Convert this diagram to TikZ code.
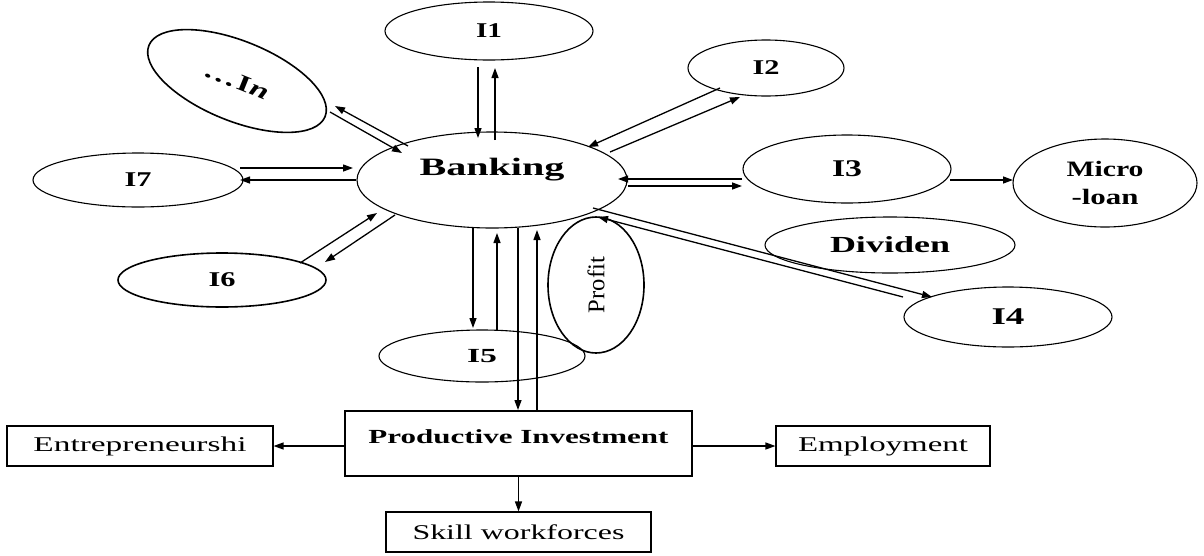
\documentclass[tikz,border=0pt]{standalone}
\usepackage{fontspec}
\setmainfont{Liberation Serif}
\usetikzlibrary{shapes.geometric,arrows.meta,calc}
\newcommand{\wtxt}[3]{\resizebox{#1pt}{\height}{\fontsize{#2}{#2}\selectfont #3}}
\tikzset{
  ell/.style={ellipse, draw, line width=1.1pt, inner sep=0pt},
  thickell/.style={ell, line width=1.6pt},
  boxn/.style={rectangle, draw, line width=1.1pt, inner sep=0pt},
  arr/.style={line width=1.3pt, -{Triangle[length=10pt,width=7pt]}},
}
\begin{document}
\begin{tikzpicture}[x=1pt,y=-1pt]
\useasboundingbox (0,0) rectangle (1204,555);
% ellipses
\node[ell, minimum width=270pt, minimum height=96pt] (bank) at (492,180)
  {\raisebox{5pt}[0pt][0pt]{\wtxt{145}{25}{\textbf{Banking}}}};
\node[ell, minimum width=208pt, minimum height=58pt] (i1) at (489,31) {\raisebox{-4pt}{\wtxt{26}{21}{\textbf{I1}}}};
\node[ell, minimum width=156pt, minimum height=56pt] (i2) at (766,68) {\raisebox{-4pt}{\wtxt{27}{21}{\textbf{I2}}}};
\node[ell, minimum width=208pt, minimum height=68pt] (i3) at (847,169) {\wtxt{30}{24}{\textbf{I3}}};
\node[ell, minimum width=184pt, minimum height=88pt, align=center, font=\fontsize{21}{28}\selectfont] (micro) at (1105,183)
  {\wtxt{77}{22}{\textbf{Micro}}\\\wtxt{67}{22}{\textbf{-loan}}};
\node[ell, minimum width=250pt, minimum height=56pt] (div) at (890,245) {\wtxt{120}{23}{\textbf{Dividen}}};
\node[ell, minimum width=208pt, minimum height=60pt] (i4) at (1008,317) {\wtxt{33}{24}{\textbf{I4}}};
\node[thickell, minimum width=96pt, minimum height=136pt] (profit) at (596,285)
  {\rotatebox{90}{\wtxt{56}{24}{Profit}}};
\node[ell, minimum width=206pt, minimum height=52pt] (i5) at (482,356) {\wtxt{30}{20}{\textbf{I5}}};
\node[thickell, minimum width=208pt, minimum height=54pt] (i6) at (222,280) {\raisebox{-4pt}{\wtxt{27}{21}{\textbf{I6}}}};
\node[ell, minimum width=210pt, minimum height=54pt] (i7) at (138,180) {\raisebox{-4pt}{\wtxt{27}{21}{\textbf{I7}}}};
\node[thickell, rotate=-22, minimum width=190pt, minimum height=80pt] (inn) at (237,81)
  {\wtxt{68}{23}{\textbf{\ldots\kern1pt I\kern1pt\textit{n}}}};
% boxes
\node[boxn, minimum width=347pt, minimum height=65pt] (prod) at (518.5,443.5)
  {\raisebox{0pt}[0pt][0pt]{\wtxt{300}{20}{\textbf{Productive Investment}}}};
\node[boxn, minimum width=266pt, minimum height=40pt] (ent) at (140,446) {\wtxt{213}{21}{Entrepreneurshi}};
\node[boxn, minimum width=214pt, minimum height=40pt] (emp) at (883,446) {\wtxt{170}{21}{Employment}};
\node[boxn, minimum width=265pt, minimum height=40pt] (skill) at (518.5,532) {\wtxt{212}{21}{Skill workforces}};
% I1
\draw[arr] ($(i1)+(-11,36)$) -- ($(bank)+(-14,-42)$);
\draw[arr] ($(bank)+(3,-40)$) -- ($(i1)+(6,37)$);
% I2
\draw[arr] ($(i2)+(-46,20)$) -- ($(bank)+(96,-33)$);
\draw[arr] ($(bank)+(118,-28)$) -- ($(i2)+(-26,29)$);
% I3
\draw[arr] ($(i3)+(-105,10)$) -- ($(bank)+(126,-1)$);
\draw[arr] ($(bank)+(136,6)$) -- ($(i3)+(-105,17)$);
\draw[arr] ($(i3)+(103,11)$) -- ($(micro)+(-92,-3)$);
% I4
\draw[arr] ($(bank)+(101,28)$) -- ($(i4)+(-76,-20)$);
\draw[arr] ($(i4)+(-105,-20)$) -- ($(bank)+(106,37)$);
% In
\draw[arr] ($(inn)+(93,31)$) -- ($(bank)+(-90,-27)$);
\draw[arr] ($(bank)+(-84,-34)$) -- ($(inn)+(98,25)$);
% I7
\draw[arr] ($(i7)+(102,-12)$) -- ($(bank)+(-139,-12)$);
\draw[arr] ($(bank)+(-136,0)$) -- ($(i7)+(102,0)$);
% I6
\draw[arr] ($(i6)+(78,-17)$) -- ($(bank)+(-115,33)$);
\draw[arr] ($(bank)+(-97,35)$) -- ($(i6)+(103,-18)$);
% I5
\draw[arr] ($(bank)+(-19,48)$) -- ($(i5)+(-9,-28)$);
\draw[arr] ($(i5)+(15,-26)$) -- ($(bank)+(5,53)$);
% Productive investment
\draw[arr] ($(bank)+(26,48)$) -- ($(prod)+(-0.5,-33.5)$);
\draw[arr] ($(prod)+(18.5,-32.5)$) -- ($(bank)+(45,50)$);
\draw[arr] ($(prod.west)+(0,2.5)$) -- (ent.east);
\draw[arr] ($(prod.east)+(0,2.5)$) -- (emp.west);
\draw[arr] (prod.south) -- (skill.north);
\end{tikzpicture}
\end{document}
